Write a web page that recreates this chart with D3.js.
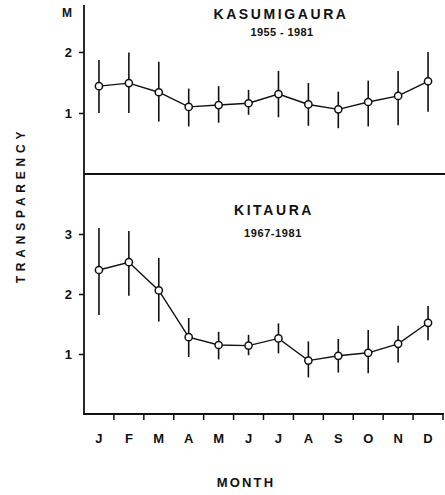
<!DOCTYPE html>
<html>
<head>
<meta charset="utf-8">
<script src="https://cdn.jsdelivr.net/npm/d3@7"></script>
<style>
  body { margin: 0; background: #fff; }
  text { font-family: "Liberation Sans", Arial, sans-serif; font-weight: bold; fill: #111; }
</style>
</head>
<body>
<div class="chart"></div>
<script>
var width = 445;
var height = 495;

var months = ["J", "F", "M", "A", "M", "J", "J", "A", "S", "O", "N", "D"];

// Kasumigaura 1955-1981: mean, upper, lower (m)
var kasuMean = [1.44, 1.49, 1.34, 1.10, 1.13, 1.16, 1.31, 1.14, 1.06, 1.18, 1.28, 1.52];
var kasuHigh = [1.87, 1.99, 1.84, 1.40, 1.44, 1.38, 1.69, 1.49, 1.35, 1.53, 1.69, 2.00];
var kasuLow  = [1.00, 1.00, 0.86, 0.78, 0.84, 0.97, 0.93, 0.79, 0.75, 0.78, 0.80, 1.02];

// Kitaura 1967-1981
var kitaMean = [2.40, 2.53, 2.06, 1.28, 1.15, 1.14, 1.26, 0.89, 0.97, 1.02, 1.17, 1.52];
var kitaHigh = [3.10, 3.05, 2.60, 1.60, 1.37, 1.32, 1.51, 1.21, 1.25, 1.40, 1.47, 1.80];
var kitaLow  = [1.65, 1.97, 1.54, 0.95, 0.91, 0.98, 1.01, 0.61, 0.69, 0.68, 0.86, 1.23];

var kasuTicks = [1, 2];
var kitaTicks = [1, 2, 3];

var svg = d3.select(".chart").append("svg")
    .attr("width", width)
    .attr("height", height);

var x = d3.scaleBand()
    .domain(d3.range(12))
    .range([84, 443]);

var yTop = d3.scaleLinear().domain([0, 2.77]).range([174, 5]);
var yBot = d3.scaleLinear().domain([0, 4]).range([414, 174]);

// axes frame
svg.append("line").attr("x1", 84).attr("x2", 84).attr("y1", 5).attr("y2", 415)
    .attr("stroke", "#111").attr("stroke-width", 1.8);
svg.append("line").attr("x1", 84).attr("x2", 445).attr("y1", 174).attr("y2", 174)
    .attr("stroke", "#111").attr("stroke-width", 1.8);
svg.append("line").attr("x1", 84).attr("x2", 444).attr("y1", 414).attr("y2", 414)
    .attr("stroke", "#111").attr("stroke-width", 1.8);

// month boundary ticks + labels
var xAxis = d3.axisBottom(x).tickSize(0).tickFormat(function(i) { return months[i]; });
var gx = svg.append("g").attr("transform", "translate(0,414)").call(xAxis);
gx.select(".domain").remove();
gx.selectAll("text").attr("dy", 0).attr("y", 29).attr("font-size", 13)
    .style("font-family", "Liberation Sans, Arial, sans-serif").style("font-weight", "bold");

svg.selectAll(".mtick").data(d3.range(12)).enter().append("line")
    .attr("x1", function(i) { return x(i) + x.bandwidth(); })
    .attr("x2", function(i) { return x(i) + x.bandwidth(); })
    .attr("y1", 414).attr("y2", 420)
    .attr("stroke", "#111").attr("stroke-width", 1.5);

function drawPanel(y, ticks, mean, high, low) {
    var g = svg.append("g");
    var yAxis = d3.axisLeft(y).tickValues(ticks).tickSize(5).tickPadding(7).tickFormat(d3.format("d"));
    var ga = g.append("g").attr("transform", "translate(84,0)").call(yAxis);
    ga.select(".domain").remove();
    ga.selectAll("line").attr("stroke", "#111").attr("stroke-width", 1.5);
    ga.selectAll("text").attr("font-size", 13)
        .style("font-family", "Liberation Sans, Arial, sans-serif").style("font-weight", "bold");

    var cx = function(i) { return x(i) + x.bandwidth() / 2; };

    g.selectAll(".err").data(d3.range(12)).enter().append("line")
        .attr("x1", cx).attr("x2", cx)
        .attr("y1", function(i) { return y(high[i]); })
        .attr("y2", function(i) { return y(low[i]); })
        .attr("stroke", "#111").attr("stroke-width", 1.6);

    var line = d3.line().x(cx).y(function(i) { return y(mean[i]); });
    g.append("path").datum(d3.range(12)).attr("d", line)
        .attr("fill", "none").attr("stroke", "#111").attr("stroke-width", 1.4);

    g.selectAll(".pt").data(d3.range(12)).enter().append("circle")
        .attr("cx", cx).attr("cy", function(i) { return y(mean[i]); })
        .attr("r", 3.6).attr("fill", "#fff").attr("stroke", "#111").attr("stroke-width", 1.5);
}

drawPanel(yTop, kasuTicks, kasuMean, kasuHigh, kasuLow);
drawPanel(yBot, kitaTicks, kitaMean, kitaHigh, kitaLow);

// titles and labels
svg.append("text").attr("x", 67).attr("y", 17).attr("text-anchor", "middle")
    .attr("font-size", 12).text("M");
svg.append("text").attr("x", 281).attr("y", 19).attr("text-anchor", "middle")
    .attr("font-size", 14).attr("letter-spacing", 2.6).text("KASUMIGAURA");
svg.append("text").attr("x", 282).attr("y", 36).attr("text-anchor", "middle")
    .attr("font-size", 11).attr("letter-spacing", 0.4).text("1955 - 1981");
svg.append("text").attr("x", 274).attr("y", 215).attr("text-anchor", "middle")
    .attr("font-size", 14).attr("letter-spacing", 2.6).text("KITAURA");
svg.append("text").attr("x", 273).attr("y", 237).attr("text-anchor", "middle")
    .attr("font-size", 11).attr("letter-spacing", 0.6).text("1967-1981");
svg.append("text").attr("x", 246).attr("y", 487).attr("text-anchor", "middle")
    .attr("font-size", 13).attr("letter-spacing", 2.2).text("MONTH");
svg.append("text").attr("transform", "translate(25,205) rotate(-90)")
    .attr("text-anchor", "middle").attr("font-size", 12).attr("letter-spacing", 4.8)
    .text("TRANSPARENCY");
</script>
</body>
</html>
